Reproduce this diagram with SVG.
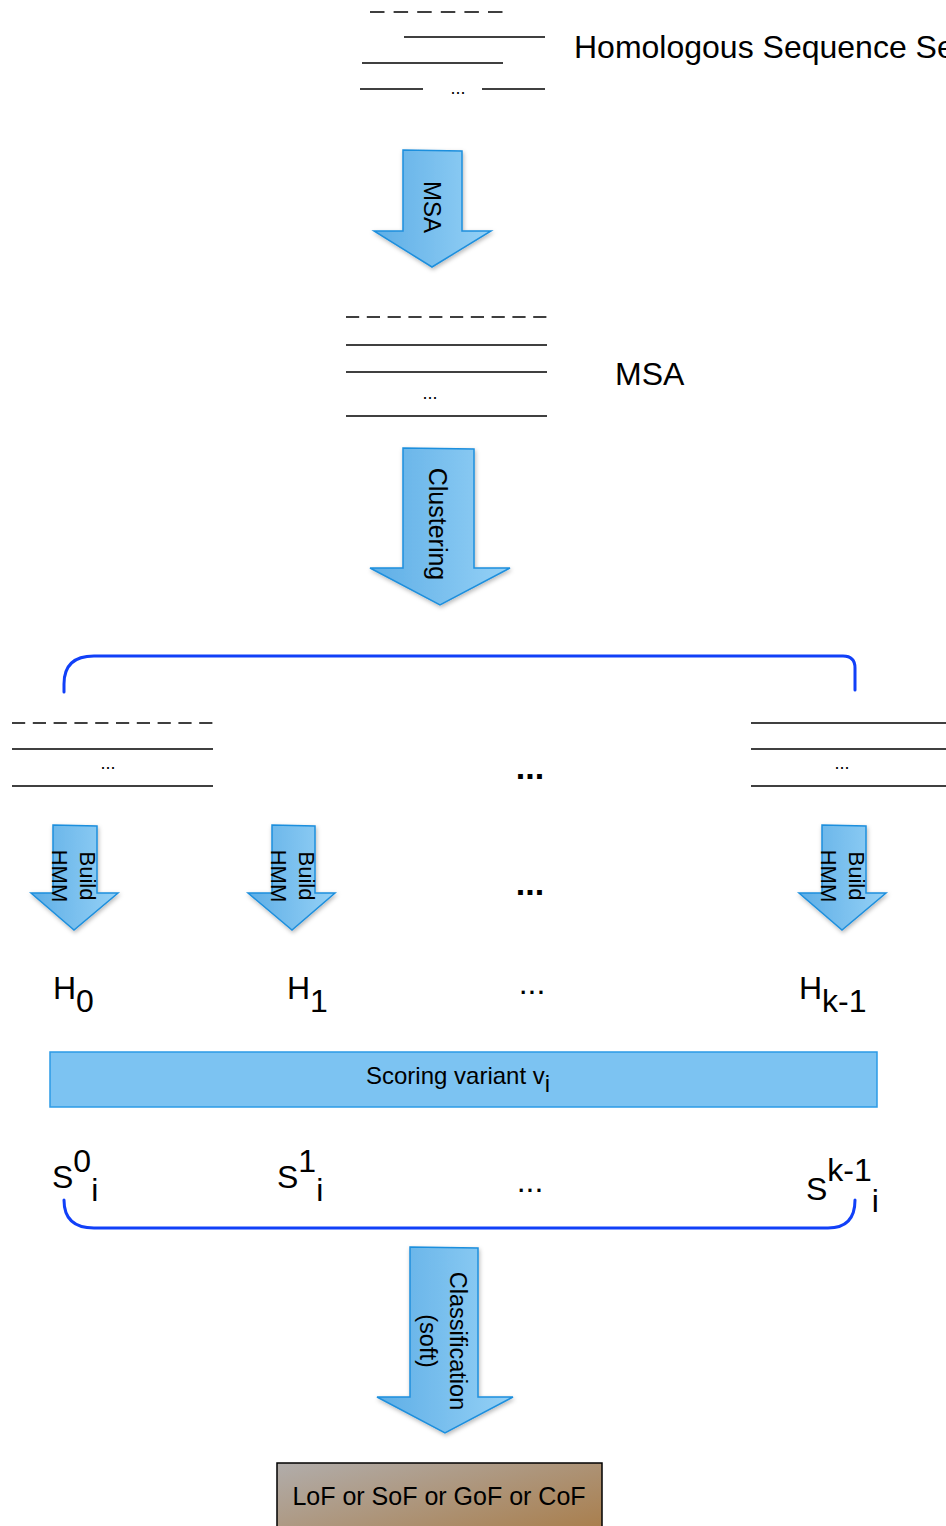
<svg xmlns="http://www.w3.org/2000/svg" width="946" height="1526" viewBox="0 0 946 1526">
  <defs>
    <linearGradient id="arrowFill" x1="0" y1="0" x2="1" y2="0">
      <stop offset="0" stop-color="#5eaee6"/>
      <stop offset="1" stop-color="#95d1f6"/>
    </linearGradient>
    <linearGradient id="resultFill" x1="0" y1="0" x2="1" y2="1">
      <stop offset="0" stop-color="#b1adab"/>
      <stop offset="1" stop-color="#a8773e"/>
    </linearGradient>
    <filter id="shadow" x="-20%" y="-20%" width="140%" height="140%">
      <feDropShadow dx="1" dy="2" stdDeviation="2" flood-color="#000" flood-opacity="0.28"/>
    </filter>
    <style>
      text { font-family: "Liberation Sans", Arial, sans-serif; fill: #000; }
      .seq { stroke: #000; stroke-width: 1.6; fill: none; }
      .gap { stroke: #000; stroke-width: 1.6; fill: none; stroke-dasharray: 13.2 7.6; }
      .arrow { fill: url(#arrowFill); stroke: #1e8fdd; stroke-width: 1.5; filter: url(#shadow); }
      .brace { fill: none; stroke: #1140f8; stroke-width: 3; stroke-linecap: round; }
      .big { font-size: 32px; }
      .dots { font-size: 18px; }
      .bigdots { font-size: 34px; font-weight: bold; text-anchor: middle; }
      .vlabel { dominant-baseline: central; text-anchor: middle; }
    </style>
  </defs>

  <!-- input set of homologous sequences -->
  <g id="homologous-set">
    <line class="gap" x1="370" y1="12" x2="503" y2="12" style="stroke-dasharray:14.5 9.1"/>
    <line class="seq" x1="404" y1="37" x2="545" y2="37"/>
    <line class="seq" x1="362" y1="63" x2="503" y2="63"/>
    <line class="seq" x1="360" y1="89" x2="423" y2="89"/>
    <text class="dots" x="458" y="94" text-anchor="middle">...</text>
    <line class="seq" x1="482" y1="89" x2="545" y2="89"/>
    <text class="big" x="574" y="58">Homologous Sequence Set</text>
  </g>

  <!-- multiple sequence alignment -->
  <g id="msa">
    <line class="gap" x1="346" y1="317" x2="547" y2="317"/>
    <line class="seq" x1="346" y1="345" x2="547" y2="345"/>
    <line class="seq" x1="346" y1="372" x2="547" y2="372"/>
    <text class="dots" x="430" y="399" text-anchor="middle">...</text>
    <line class="seq" x1="346" y1="416" x2="547" y2="416"/>
    <text class="big" x="615" y="385">MSA</text>
  </g>

  <!-- first cluster -->
  <g id="cluster-0">
    <line class="gap" x1="12" y1="723" x2="213" y2="723"/>
    <line class="seq" x1="12" y1="749" x2="213" y2="749"/>
    <text class="dots" x="108" y="769" text-anchor="middle">...</text>
    <line class="seq" x1="12" y1="786" x2="213" y2="786"/>
  </g>

  <g id="cluster-more">
    <text class="bigdots" x="530" y="779">...</text>
  </g>

  <!-- last cluster -->
  <g id="cluster-k-1">
    <line class="seq" x1="751" y1="723" x2="952" y2="723"/>
    <line class="seq" x1="751" y1="749" x2="952" y2="749"/>
    <text class="dots" x="842" y="769" text-anchor="middle">...</text>
    <line class="seq" x1="751" y1="786" x2="952" y2="786"/>
  </g>

  <!-- per-cluster HMMs -->
  <g id="hmm-0">
    <text class="big" x="53" y="999">H<tspan dy="13">0</tspan></text>
  </g>
  <g id="hmm-1">
    <text class="big" x="287" y="999">H<tspan dy="13">1</tspan></text>
  </g>
  <g id="hmm-more">
    <text class="big" x="532" y="994" text-anchor="middle">...</text>
  </g>
  <g id="hmm-k-1">
    <text class="big" x="799" y="999">H<tspan dy="13">k-1</tspan></text>
  </g>

  <!-- scoring step -->
  <g id="scoring">
    <rect x="50" y="1052" width="827" height="55" fill="#7cc3f2" stroke="#2b9be6" stroke-width="1.5"/>
    <text x="366" y="1084" font-size="24">Scoring variant v<tspan dy="8">i</tspan></text>
  </g>

  <!-- scores per HMM -->
  <g id="score-0">
    <text class="big" x="52" y="1188">S<tspan dy="-16">0</tspan><tspan dy="29">i</tspan></text>
  </g>
  <g id="score-1">
    <text class="big" x="277" y="1188">S<tspan dy="-16">1</tspan><tspan dy="29">i</tspan></text>
  </g>
  <g id="score-more">
    <text class="big" x="530" y="1192" text-anchor="middle">...</text>
  </g>
  <g id="score-k-1">
    <text class="big" x="806" y="1200">S<tspan dy="-19">k-1</tspan><tspan dy="31">i</tspan></text>
  </g>

  <!-- final label -->
  <g id="result">
    <rect x="277" y="1463" width="325" height="90" fill="url(#resultFill)" stroke="#000" stroke-width="1.5"/>
    <text x="439" y="1505" font-size="25" text-anchor="middle">LoF or SoF or GoF or CoF</text>
  </g>

  <!-- step arrows and grouping braces -->
  <g id="connectors">
    <g id="arrow-msa">
      <path class="arrow" d="M403,150 L462,151 L462,231 L491,231 L432,267 L374,231 L403,231 Z"/>
      <text class="vlabel" font-size="24" transform="rotate(90 432 207)" x="432" y="207">MSA</text>
    </g>
    <g id="arrow-clustering">
      <path class="arrow" d="M403,448 L474,449 L474,568 L510,568 L440,605 L370,568 L403,568 Z"/>
      <text class="vlabel" font-size="25" transform="rotate(90 438 524)" x="438" y="524">Clustering</text>
    </g>
    <path id="brace-clusters" class="brace" d="M64,692 L64,684 Q64,656 94,656 L843,656 Q855,656 855,668 L855,690"/>
    <g id="arrow-build-0">
      <path class="arrow" d="M53,825 L97,826 L97,893 L118,893 L74,930 L31,893 L53,893 Z"/>
      <text class="vlabel" font-size="22" transform="rotate(90 87 876)" x="87" y="876">Build</text>
      <text class="vlabel" font-size="22" transform="rotate(90 59 876)" x="59" y="876">HMM</text>
    </g>
    <g id="arrow-build-1">
      <path class="arrow" d="M272,825 L315,826 L315,893 L335,893 L292,930 L248,893 L272,893 Z"/>
      <text class="vlabel" font-size="22" transform="rotate(90 306 876)" x="306" y="876">Build</text>
      <text class="vlabel" font-size="22" transform="rotate(90 278 876)" x="278" y="876">HMM</text>
    </g>
    <text class="bigdots" x="530" y="895">...</text>
    <g id="arrow-build-k-1">
      <path class="arrow" d="M822,825 L866,826 L866,893 L886,893 L842,930 L799,893 L822,893 Z"/>
      <text class="vlabel" font-size="22" transform="rotate(90 856 876)" x="856" y="876">Build</text>
      <text class="vlabel" font-size="22" transform="rotate(90 828 876)" x="828" y="876">HMM</text>
    </g>
    <path id="brace-scores" class="brace" d="M64,1200 Q64,1228 94,1228 L828,1228 Q855,1228 855,1200"/>
    <g id="arrow-classification">
      <path class="arrow" d="M410,1247 L478,1248 L478,1397 L513,1397 L445,1433 L377,1397 L410,1397 Z"/>
      <text class="vlabel" font-size="23.5" transform="rotate(90 458 1341)" x="458" y="1341">Classification</text>
      <text class="vlabel" font-size="23.5" transform="rotate(90 428 1341)" x="428" y="1341">(soft)</text>
    </g>
  </g>
</svg>
